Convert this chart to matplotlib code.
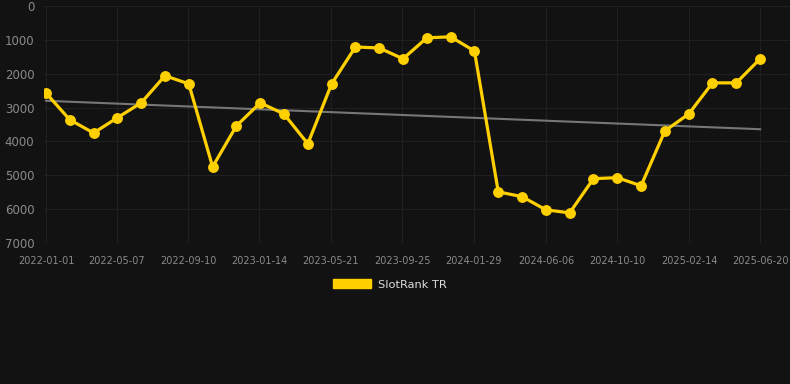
import matplotlib
matplotlib.use('Agg')
import matplotlib.pyplot as plt
import matplotlib.dates as mdates
from matplotlib.patches import Patch
import numpy as np
from datetime import date, timedelta

# data
start = date(2022, 1, 1)
end = date(2025, 6, 20)
ranks = [2570, 3360, 3750, 3300, 2860, 2060, 2300, 4750, 3540, 2860,
         3190, 4070, 2300, 1210, 1240, 1560, 940, 910, 1330, 5490,
         5630, 6020, 6110, 5100, 5070, 5310, 3690, 3190, 2270, 2270,
         1560]
tick_labels = ['2022-01-01', '2022-05-07', '2022-09-10', '2023-01-14',
               '2023-05-21', '2023-09-25', '2024-01-29', '2024-06-06',
               '2024-10-10', '2025-02-14', '2025-06-20']
series_name = 'SlotRank TR'

bg = '#121212'
fig = plt.figure(figsize=(7.9, 3.84), dpi=100, facecolor=bg)
ax = fig.add_axes([44 / 790, 1 - 243 / 384, 746 / 790, 237 / 384])
ax.set_facecolor(bg)

x = np.linspace(mdates.date2num(start), mdates.date2num(end), len(ranks))
# trend line (least squares)
k, b = np.polyfit(x, ranks, 1)
ax.plot(x, k * x + b, color='#777777', lw=1.5, zorder=2)

ax.plot(x, ranks, color='#FFD000', lw=2.3, marker='o', ms=6.8,
        zorder=3)

ax.set_ylim(7000, 0)
ax.set_yticks(range(0, 7001, 1000))
ax.set_xlim(mdates.date2num(start) - 3.5,
            mdates.date2num(end) + 53)
ax.set_xticks([mdates.datestr2num(t) for t in tick_labels])
ax.set_xticklabels(tick_labels)

ax.grid(True, color='#202020', lw=0.8)
for s in ax.spines.values():
    s.set_visible(False)
ax.tick_params(axis='y', colors='#8a8a8a', labelsize=8.5, length=0, pad=7)
ax.tick_params(axis='x', colors='#8a8a8a', labelsize=7, length=0, pad=9)

ax.legend(handles=[Patch(color='#FFD000', label=series_name)],
          loc='upper center', bbox_to_anchor=((390 - 44) / 746, -0.11),
          frameon=False, handlelength=3.3, handleheight=0.85,
          handletextpad=0.6, fontsize=8.2, labelcolor='#dddddd')

fig.savefig('out.png', facecolor=bg)
